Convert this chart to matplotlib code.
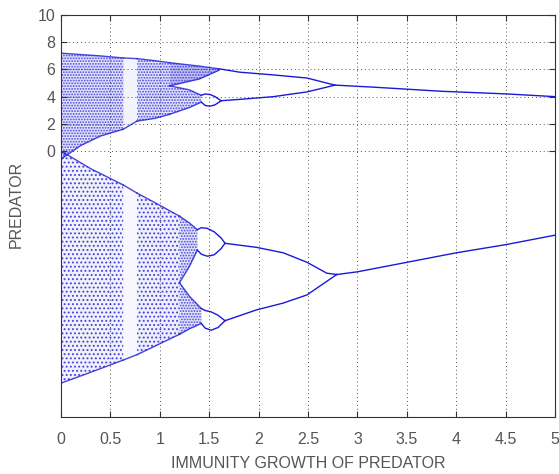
"""
Bifurcation diagram of predator vs immunity growth rate
chaotic bands drawn as dotted regions, periodic branches as lines
"""

import numpy as np
import matplotlib.pyplot as plt

plt.rcParams['font.family'] = ['Liberation Sans', 'DejaVu Sans']
plt.rcParams['hatch.linewidth'] = 0.9

BLUE = '#1a1ad6'

# --- chaotic bands (upper set) -------------------------------------------
ua_x = [0.0, 0.2, 0.4, 0.63]
ua_top = [7.2, 7.1, 7.0, 6.85]
ua_bot = [-0.6, 0.4, 1.1, 1.6]

uw_x = [0.63, 0.77]
uw_top = [6.85, 6.8]
uw_bot = [1.6, 2.2]

ub_x = [0.77, 0.95, 1.1]
ub_top = [6.8, 6.65, 6.5]
ub_bot = [2.2, 2.4, 2.7]

uc1_x = [1.1, 1.4, 1.6]
uc1_top = [6.5, 6.25, 6.05]
uc1_bot = [4.8, 5.3, 5.95]

uc2_x = [1.1, 1.3, 1.42]
uc2_top = [4.8, 4.5, 4.1]
uc2_bot = [2.7, 3.2, 3.6]

# --- chaotic bands (lower set) -------------------------------------------
la_x = [0.0, 0.3, 0.63]
la_top = [0.0, -1.3, -2.5]
la_bot = [-17.1, -16.3, -15.4]

lw_x = [0.63, 0.77]
lw_top = [-2.5, -3.1]
lw_bot = [-15.4, -15.0]

lb_x = [0.77, 1.0, 1.2]
lb_top = [-3.1, -4.0, -4.8]
lb_bot = [-15.0, -14.2, -13.5]

lc1_x = [1.2, 1.3, 1.38]
lc1_top = [-4.8, -5.3, -5.8]
lc1_bot = [-9.7, -8.5, -7.3]

lc2_x = [1.2, 1.3, 1.42]
lc2_top = [-9.7, -10.7, -11.6]
lc2_bot = [-13.5, -13.1, -12.7]

# --- periodic branches (upper set) ---------------------------------------
p_up_hi_x = [1.6, 1.81, 2.15, 2.49, 2.69, 2.77]
p_up_hi_y = [6.05, 5.8, 5.6, 5.37, 5.0, 4.85]
p_up_lo_x = [1.62, 1.81, 2.15, 2.49, 2.69, 2.77]
p_up_lo_y = [3.7, 3.8, 4.0, 4.35, 4.7, 4.85]
p_up_x = [2.77, 3.16, 3.84, 4.51, 5.0]
p_up_y = [4.85, 4.7, 4.4, 4.2, 4.0]

bub_up_x = [1.42, 1.46, 1.51, 1.56, 1.62]
bub_up_a = [4.1, 4.2, 4.15, 4.0, 3.7]
bub_up_b = [3.6, 3.35, 3.3, 3.4, 3.7]

# --- periodic branches (lower set) ---------------------------------------
p_lo_hi_x = [1.66, 1.98, 2.25, 2.49, 2.69, 2.79]
p_lo_hi_y = [-6.8, -7.1, -7.5, -8.2, -9.0, -9.1]
p_lo_lo_x = [1.66, 1.98, 2.25, 2.49, 2.69, 2.79]
p_lo_lo_y = [-12.5, -11.7, -11.2, -10.6, -9.6, -9.1]
p_lo_x = [2.79, 3.0, 3.5, 4.0, 4.5, 5.0]
p_lo_y = [-9.1, -8.9, -8.2, -7.5, -6.9, -6.2]

bub_lo1_x = [1.38, 1.42, 1.48, 1.55, 1.62, 1.66]
bub_lo1_a = [-5.8, -5.65, -5.7, -5.95, -6.4, -6.8]
bub_lo1_b = [-7.3, -7.6, -7.75, -7.65, -7.2, -6.8]
bub_lo2_x = [1.42, 1.46, 1.52, 1.59, 1.66]
bub_lo2_a = [-11.6, -11.75, -11.85, -12.1, -12.5]
bub_lo2_b = [-12.7, -13.05, -13.2, -13.0, -12.5]

x_ticks = np.arange(0, 5.01, 0.5)
x_labels = ['0', '0.5', '1', '1.5', '2', '2.5', '3', '3.5', '4', '4.5', '5']
y_ticks = [0, 2, 4, 6, 8, 10]


def band(ax, x, top, bot, hatch='......', shade=0.12):
    ax.fill_between(x, bot, top, color=BLUE, alpha=shade, linewidth=0)
    if hatch:
        ax.fill_between(x, bot, top, facecolor='none', edgecolor=BLUE,
                        hatch=hatch, linewidth=0, alpha=0.75)
    ax.plot(x, top, color=BLUE, lw=1.0, alpha=0.8)
    ax.plot(x, bot, color=BLUE, lw=1.0, alpha=0.8)


fig = plt.figure(figsize=(5.59, 4.74), dpi=100)
ax = fig.add_axes([0.109, 0.120, 0.884, 0.848])

band(ax, ua_x, ua_top, ua_bot)
band(ax, uw_x, uw_top, uw_bot, hatch=None, shade=0.05)
band(ax, ub_x, ub_top, ub_bot)
band(ax, uc1_x, uc1_top, uc1_bot, shade=0.25)
band(ax, uc2_x, uc2_top, uc2_bot)
band(ax, la_x, la_top, la_bot, hatch='....', shade=0.06)
band(ax, lw_x, lw_top, lw_bot, hatch=None, shade=0.03)
band(ax, lb_x, lb_top, lb_bot, hatch='....', shade=0.07)
band(ax, lc1_x, lc1_top, lc1_bot, shade=0.12)
band(ax, lc2_x, lc2_top, lc2_bot, shade=0.12)

for xs, ys in [(p_up_hi_x, p_up_hi_y), (p_up_lo_x, p_up_lo_y), (p_up_x, p_up_y),
               (bub_up_x, bub_up_a), (bub_up_x, bub_up_b),
               (p_lo_hi_x, p_lo_hi_y), (p_lo_lo_x, p_lo_lo_y), (p_lo_x, p_lo_y),
               (bub_lo1_x, bub_lo1_a), (bub_lo1_x, bub_lo1_b),
               (bub_lo2_x, bub_lo2_a), (bub_lo2_x, bub_lo2_b)]:
    ax.plot(xs, ys, color=BLUE, lw=1.0)

ax.set_xlim(0, 5)
ax.set_ylim(-19.6, 10)
ax.set_xticks(x_ticks)
ax.set_xticklabels(x_labels)
ax.set_yticks(y_ticks)

# dotted grid: vertical lines over full height, horizontal ones only at ticks
for xt in x_ticks[1:-1]:
    ax.axvline(xt, color='#555555', lw=0.7, ls=(0, (1, 3)), zorder=0)
for yt in y_ticks[:-1]:
    ax.axhline(yt, color='#555555', lw=0.7, ls=(0, (1, 3)), zorder=0)

ax.tick_params(direction='in', top=True, right=True, length=4,
               labelsize=11.5, labelcolor='#555555', color='#333333')
ax.tick_params(axis='x', pad=11)
ax.tick_params(axis='y', pad=4)
for s in ax.spines.values():
    s.set_color('#333333')

ax.set_xlabel('IMMUNITY GROWTH OF PREDATOR', fontsize=11.5, color='#555555',
              labelpad=6)
ax.set_ylabel('PREDATOR', fontsize=11.5, color='#555555')
ax.yaxis.set_label_coords(-0.075, 0.53)

plt.savefig('out.png', dpi=100)
